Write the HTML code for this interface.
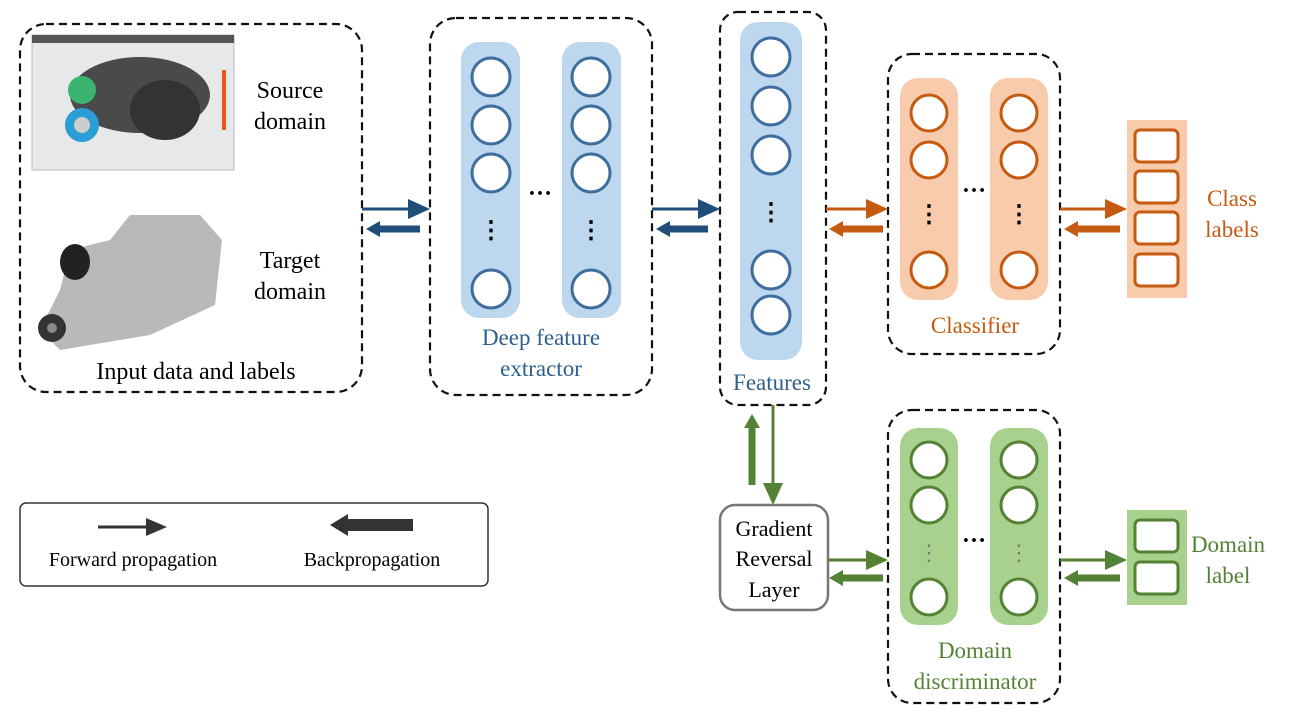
<!DOCTYPE html>
<html><head><meta charset="utf-8"><style>
html,body{margin:0;padding:0;background:#fff;}
svg text{font-family:"Liberation Serif",serif;}
</style></head><body>
<svg width="1302" height="719" viewBox="0 0 1302 719" xmlns="http://www.w3.org/2000/svg">
<g fill="none" stroke="#111" stroke-width="2.2" stroke-dasharray="8,5">
<rect x="20" y="24" width="342" height="368" rx="26"/>
<rect x="430" y="18" width="222" height="377" rx="26"/>
<rect x="720" y="12" width="106" height="393" rx="18"/>
<rect x="888" y="54" width="172" height="300" rx="24"/>
<rect x="888" y="410" width="172" height="293" rx="24"/>
</g>
<!-- source image -->
<rect x="32" y="35" width="202" height="135" fill="#e6e8ea" stroke="#bbb"/>
<rect x="32" y="35" width="202" height="8" fill="#555"/>
<ellipse cx="140" cy="95" rx="70" ry="38" fill="#4a4a4a"/>
<ellipse cx="165" cy="110" rx="35" ry="30" fill="#333"/>
<circle cx="82" cy="90" r="14" fill="#3cb371"/>
<circle cx="82" cy="125" r="17" fill="#2a9fd6"/>
<circle cx="82" cy="125" r="8" fill="#ccc"/>
<rect x="222" y="70" width="4" height="60" fill="#e8561f"/>
<!-- target image -->
<path d="M40 330 L60 290 L70 250 L110 240 L130 215 L200 215 L222 240 L215 305 L150 335 L60 350z" fill="#b8b9bb"/>
<ellipse cx="75" cy="262" rx="15" ry="18" fill="#222"/>
<circle cx="52" cy="328" r="14" fill="#333"/>
<circle cx="52" cy="328" r="5" fill="#888"/>
<g font-size="24" fill="#000" text-anchor="middle">
<text x="290" y="98">Source</text><text x="290" y="129">domain</text>
<text x="290" y="268">Target</text><text x="290" y="299">domain</text>
<text x="196" y="379">Input data and labels</text>
</g>
<!-- deep feature extractor -->
<rect x="461" y="42" width="59" height="276" rx="18" fill="#bdd7ee"/>
<rect x="562" y="42" width="59" height="276" rx="18" fill="#bdd7ee"/>
<g fill="#fff" stroke="#3e6e9e" stroke-width="3">
<circle cx="491" cy="77" r="19"/><circle cx="491" cy="125" r="19"/><circle cx="491" cy="173" r="19"/><circle cx="491" cy="289" r="19"/>
<circle cx="591" cy="77" r="19"/><circle cx="591" cy="125" r="19"/><circle cx="591" cy="173" r="19"/><circle cx="591" cy="289" r="19"/>
</g>
<g font-size="23" fill="#2e5f8e" text-anchor="middle">
<text x="541" y="345">Deep feature</text><text x="541" y="376">extractor</text>
<text x="772" y="390">Features</text>
</g>
<!-- features -->
<rect x="740" y="22" width="62" height="338" rx="18" fill="#bdd7ee"/>
<g fill="#fff" stroke="#3e6e9e" stroke-width="3">
<circle cx="771" cy="57" r="19"/><circle cx="771" cy="106" r="19"/><circle cx="771" cy="155" r="19"/><circle cx="771" cy="270" r="19"/><circle cx="771" cy="315" r="19"/>
</g>
<g font-size="24" font-weight="bold" fill="#000" text-anchor="middle">
<text x="491" y="238">⋮</text><text x="591" y="238">⋮</text><text x="540" y="195">…</text>
<text x="771" y="220">⋮</text>
</g>
<!-- classifier -->
<rect x="900" y="78" width="58" height="222" rx="18" fill="#f8cbad"/>
<rect x="990" y="78" width="58" height="222" rx="18" fill="#f8cbad"/>
<g fill="#fff" stroke="#c55a11" stroke-width="3">
<circle cx="929" cy="113" r="18"/><circle cx="929" cy="160" r="18"/><circle cx="929" cy="270" r="18"/>
<circle cx="1019" cy="113" r="18"/><circle cx="1019" cy="160" r="18"/><circle cx="1019" cy="270" r="18"/>
</g>
<g font-size="24" font-weight="bold" fill="#000" text-anchor="middle">
<text x="929" y="222">⋮</text><text x="1019" y="222">⋮</text><text x="974" y="192">…</text>
</g>
<text x="975" y="333" font-size="23" fill="#c55a11" text-anchor="middle">Classifier</text>
<rect x="1127" y="120" width="60" height="178" fill="#f8cbad"/>
<g fill="#fff" stroke="#c55a11" stroke-width="3">
<rect x="1135" y="130" width="43" height="32" rx="5"/><rect x="1135" y="171" width="43" height="32" rx="5"/>
<rect x="1135" y="212" width="43" height="32" rx="5"/><rect x="1135" y="254" width="43" height="32" rx="5"/>
</g>
<g font-size="23" fill="#c55a11" text-anchor="middle"><text x="1232" y="206">Class</text><text x="1232" y="237">labels</text></g>
<!-- domain discriminator -->
<rect x="900" y="428" width="58" height="197" rx="18" fill="#a9d18e"/>
<rect x="990" y="428" width="58" height="197" rx="18" fill="#a9d18e"/>
<g fill="#fff" stroke="#548235" stroke-width="3">
<circle cx="929" cy="460" r="18"/><circle cx="929" cy="505" r="18"/><circle cx="929" cy="597" r="18"/>
<circle cx="1019" cy="460" r="18"/><circle cx="1019" cy="505" r="18"/><circle cx="1019" cy="597" r="18"/>
</g>
<g font-size="22" fill="#777" text-anchor="middle">
<text x="929" y="560">⋮</text><text x="1019" y="560">⋮</text></g>
<text x="974" y="542" font-size="24" font-weight="bold" fill="#000" text-anchor="middle">…</text>
<g font-size="23" fill="#548235" text-anchor="middle"><text x="975" y="658">Domain</text><text x="975" y="689">discriminator</text></g>
<rect x="1127" y="510" width="60" height="95" fill="#a9d18e"/>
<g fill="#fff" stroke="#548235" stroke-width="3">
<rect x="1135" y="520" width="43" height="32" rx="5"/><rect x="1135" y="562" width="43" height="32" rx="5"/>
</g>
<g font-size="23" fill="#548235" text-anchor="middle"><text x="1228" y="552">Domain</text><text x="1228" y="583">label</text></g>
<!-- GRL -->
<rect x="720" y="505" width="108" height="105" rx="15" fill="#fff" stroke="#777" stroke-width="2.5"/>
<g font-size="22" fill="#000" text-anchor="middle"><text x="774" y="536">Gradient</text><text x="774" y="566">Reversal</text><text x="774" y="597">Layer</text></g>
<!-- arrows -->
<line x1="362" y1="209" x2="412" y2="209" stroke="#1f4e79" stroke-width="3"/><path d="M408,199 L430,209 L408,219z" fill="#1f4e79"/>
<line x1="380" y1="229" x2="420" y2="229" stroke="#1f4e79" stroke-width="7"/><path d="M380,221 L366,229 L380,237z" fill="#1f4e79"/>
<line x1="652" y1="209" x2="702" y2="209" stroke="#1f4e79" stroke-width="3"/><path d="M698,199 L720,209 L698,219z" fill="#1f4e79"/>
<line x1="670" y1="229" x2="708" y2="229" stroke="#1f4e79" stroke-width="7"/><path d="M670,221 L656,229 L670,237z" fill="#1f4e79"/>
<line x1="826" y1="209" x2="870" y2="209" stroke="#c55a11" stroke-width="3"/><path d="M866,199 L888,209 L866,219z" fill="#c55a11"/>
<line x1="843" y1="229" x2="883" y2="229" stroke="#c55a11" stroke-width="7"/><path d="M843,221 L829,229 L843,237z" fill="#c55a11"/>
<line x1="1060" y1="209" x2="1109" y2="209" stroke="#c55a11" stroke-width="3"/><path d="M1105,199 L1127,209 L1105,219z" fill="#c55a11"/>
<line x1="1078" y1="229" x2="1120" y2="229" stroke="#c55a11" stroke-width="7"/><path d="M1078,221 L1064,229 L1078,237z" fill="#c55a11"/>
<line x1="773" y1="405" x2="773" y2="487" stroke="#548235" stroke-width="3"/><path d="M763,483 L773,505 L783,483z" fill="#548235"/>
<line x1="752" y1="428" x2="752" y2="485" stroke="#548235" stroke-width="7"/><path d="M744,428 L752,414 L760,428z" fill="#548235"/>
<line x1="828" y1="560" x2="870" y2="560" stroke="#548235" stroke-width="3"/><path d="M866,550 L888,560 L866,570z" fill="#548235"/>
<line x1="843" y1="578" x2="883" y2="578" stroke="#548235" stroke-width="7"/><path d="M843,570 L829,578 L843,586z" fill="#548235"/>
<line x1="1060" y1="560" x2="1109" y2="560" stroke="#548235" stroke-width="3"/><path d="M1105,550 L1127,560 L1105,570z" fill="#548235"/>
<line x1="1078" y1="578" x2="1120" y2="578" stroke="#548235" stroke-width="7"/><path d="M1078,570 L1064,578 L1078,586z" fill="#548235"/>
<!-- legend -->
<rect x="20" y="503" width="468" height="83" rx="6" fill="#fff" stroke="#333" stroke-width="1.5"/>
<line x1="98" y1="527" x2="150" y2="527" stroke="#333" stroke-width="3"/><path d="M146,518 L167,527 L146,536z" fill="#333"/>
<line x1="345" y1="525" x2="413" y2="525" stroke="#333" stroke-width="12"/><path d="M348,514 L330,525 L348,536z" fill="#333"/>
<g font-size="20" fill="#000" text-anchor="middle"><text x="133" y="566">Forward propagation</text><text x="372" y="566">Backpropagation</text></g>
</svg>
</body></html>
